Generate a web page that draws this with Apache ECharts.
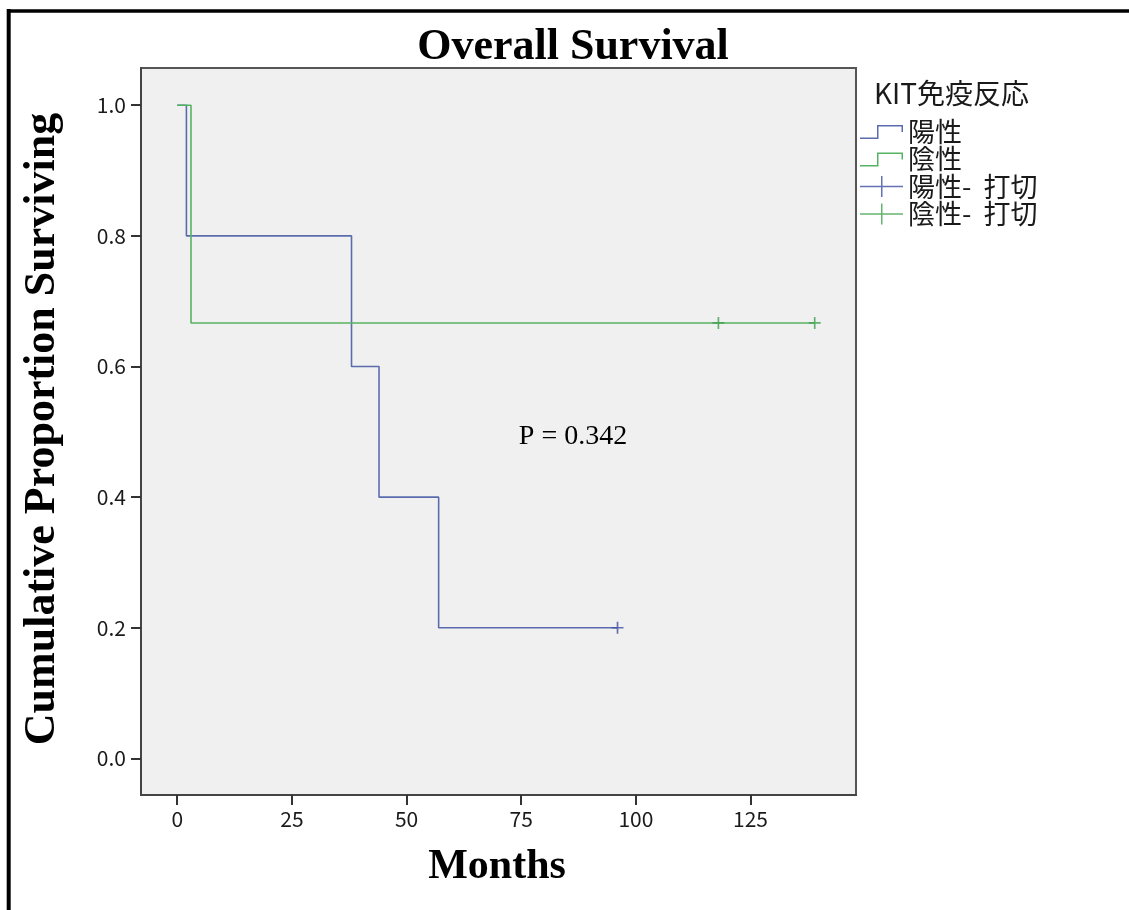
<!DOCTYPE html>
<html><head><meta charset="utf-8">
<script src="https://cdn.jsdelivr.net/npm/echarts@6/dist/echarts.min.js"></script>
<style>html,body{margin:0;padding:0;background:#fff}#c{width:1129px;height:910px}</style>
</head><body><div id="c"></div>
<script>
// ---- data ----
const posTimes = [0, 2, 38, 44, 57, 96];
const posSurv  = [1.0, 0.8, 0.6, 0.4, 0.2, 0.2];
const negTimes = [0, 3, 139];
const negSurv  = [1.0, 0.6667, 0.6667];
const posCensorTimes = [96];
const posCensorSurv  = [0.2];
const negCensorTimes = [118, 139];
const negCensorSurv  = [0.6667, 0.6667];
const xTicks = [0, 25, 50, 75, 100, 125];
const yTicks = [0.0, 0.2, 0.4, 0.6, 0.8, 1.0];
const seriesNames = ['陽性', '陰性', '陽性-  打切', '陰性-  打切'];
const legendTitle = 'KIT免疫反応';
const chartTitle = 'Overall Survival';
const xTitle = 'Months';
const yTitle = 'Cumulative Proportion Surviving';
const pText = 'P = 0.342';

const zip = (a, b) => a.map((v, i) => [v, b[i]]);
const blue = '#5a6cae', green = '#55b462';
const blueC = '#3e4fa0', greenC = '#3ea04c';
const stepIcon = 'path://M0,0 L0.01,0 Z M43,21 L42.99,21 Z M0,16.5 H17 V4 H43 V11 H41.5 V5.5 H18.5 V18 H0 Z';
const crossIcon = 'path://M0,9.75 H21 V0 H22.5 V9.75 H43 V11.25 H22.5 V21 H21 V11.25 H0 Z';
const plusSym = 'path://M4.3,0 H5.7 V4.3 H10 V5.7 H5.7 V10 H4.3 V5.7 H0 V4.3 H4.3 Z';
const labelFont = '"Noto Sans CJK JP", "DejaVu Sans", sans-serif';
const serif = '"Liberation Serif", "DejaVu Serif", serif';

const chart = echarts.init(document.getElementById('c'), null, {renderer: 'canvas'});
chart.setOption({
  animation: false,
  backgroundColor: '#fff',
  grid: {left: 141, right: 273, top: 68, bottom: 115, show: true, backgroundColor: '#f0f0f0',
         borderColor: '#555', borderWidth: 2, outerBoundsMode: 'none'},
  xAxis: {
    type: 'value', min: -7.9, max: 148,
    axisLine: {show: true, onZero: false, lineStyle: {color: '#444', width: 2}},
    axisTick: {show: true, length: 10, customValues: xTicks, lineStyle: {color: '#333', width: 2}},
    axisLabel: {customValues: xTicks, margin: 14, fontFamily: labelFont, fontSize: 21, color: '#1a1a1a'},
    splitLine: {show: false}
  },
  yAxis: {
    type: 'value', min: -0.056, max: 1.057,
    axisLine: {show: true, onZero: false, lineStyle: {color: '#444', width: 2}},
    axisTick: {show: true, length: 10, customValues: yTicks, lineStyle: {color: '#333', width: 2}},
    axisLabel: {customValues: yTicks, margin: 15, fontFamily: labelFont, fontSize: 21, color: '#1a1a1a',
                formatter: v => v.toFixed(1)},
    splitLine: {show: false}
  },
  legend: {
    orient: 'vertical', left: 860, top: 118, itemWidth: 43, itemHeight: 21, itemGap: 0.5,
    selectedMode: false, padding: 0,
    itemStyle: {borderWidth: 0},
    textStyle: {fontFamily: labelFont, fontSize: 27, lineHeight: 27, color: '#1a1a1a'},
    data: [
      {name: seriesNames[0], icon: stepIcon, itemStyle: {color: blue}},
      {name: seriesNames[1], icon: stepIcon, itemStyle: {color: green}},
      {name: seriesNames[2], icon: crossIcon, itemStyle: {color: blueC}},
      {name: seriesNames[3], icon: crossIcon, itemStyle: {color: greenC}}
    ]
  },
  graphic: [
    {type: 'line', shape: {x1: 7, y1: 11, x2: 1129, y2: 11}, style: {stroke: '#000', lineWidth: 3.5}},
    {type: 'line', shape: {x1: 8.7, y1: 9, x2: 8.7, y2: 910}, style: {stroke: '#000', lineWidth: 4}},
    {type: 'text', x: 573, y: 48, style: {text: chartTitle, font: 'bold 44px ' + serif, fill: '#000',
      textAlign: 'center', textVerticalAlign: 'middle'}},
    {type: 'text', x: 497, y: 867, style: {text: xTitle, font: 'bold 42px ' + serif, fill: '#000',
      textAlign: 'center', textVerticalAlign: 'middle'}},
    {type: 'text', x: 43, y: 429, rotation: Math.PI / 2, style: {text: yTitle, font: 'bold 44px ' + serif,
      fill: '#000', textAlign: 'center', textVerticalAlign: 'middle'}},
    {type: 'text', x: 573, y: 437, style: {text: pText, font: '28px ' + serif, fill: '#000',
      textAlign: 'center', textVerticalAlign: 'middle'}},
    {type: 'text', x: 874, y: 93, style: {text: legendTitle, font: '28px ' + labelFont, fill: '#1a1a1a',
      textAlign: 'left', textVerticalAlign: 'middle'}}
  ],
  series: [
    {name: seriesNames[0], type: 'line', step: 'end', showSymbol: false, data: zip(posTimes, posSurv),
     lineStyle: {color: blue, width: 1.6}, itemStyle: {color: blue}, z: 2},
    {name: seriesNames[1], type: 'line', step: 'end', showSymbol: false, data: zip(negTimes, negSurv),
     lineStyle: {color: green, width: 1.6}, itemStyle: {color: green}, z: 3},
    {name: seriesNames[2], type: 'scatter', symbol: plusSym, symbolSize: 12, data: zip(posCensorTimes, posCensorSurv),
     itemStyle: {color: blueC}, z: 4},
    {name: seriesNames[3], type: 'scatter', symbol: plusSym, symbolSize: 12, data: zip(negCensorTimes, negCensorSurv),
     itemStyle: {color: greenC}, z: 4}
  ]
});
</script></body></html>
